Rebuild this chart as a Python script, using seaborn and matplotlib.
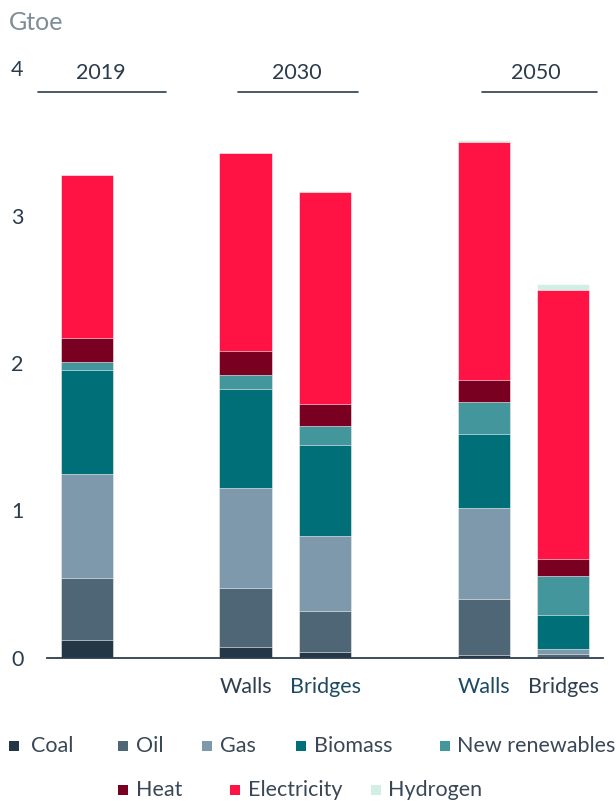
import numpy as np
import pandas as pd
import matplotlib
matplotlib.use("Agg")
import matplotlib.pyplot as plt
from matplotlib.patches import Rectangle
import seaborn as sns

# ---------------- data ----------------
bars = ["2019", "2030 Walls", "2030 Bridges", "2050 Walls", "2050 Bridges"]
positions = [0, 2, 3, 5, 6]
tick_labels = ["Walls", "Bridges", "Walls", "Bridges"]
groups = ["2019", "2030", "2050"]
sources = ["Coal", "Oil", "Gas", "Biomass", "New renewables", "Heat", "Electricity", "Hydrogen"]

coal = [0.12, 0.077, 0.043, 0.020, 0.010]
oil = [0.42, 0.400, 0.277, 0.382, 0.015]
gas = [0.71, 0.675, 0.510, 0.613, 0.034]
biomass = [0.70, 0.670, 0.617, 0.506, 0.235]
new_renewables = [0.055, 0.100, 0.127, 0.215, 0.262]
heat = [0.165, 0.160, 0.151, 0.147, 0.115]
electricity = [1.105, 1.340, 1.437, 1.613, 1.826]
hydrogen = [0.0, 0.0, 0.007, 0.016, 0.037]

colors = {
    "Coal": "#243746",
    "Oil": "#4f6677",
    "Gas": "#7d99ab",
    "Biomass": "#006f77",
    "New renewables": "#43969b",
    "Heat": "#7a0022",
    "Electricity": "#ff1244",
    "Hydrogen": "#d2efe5",
}

series = [coal, oil, gas, biomass, new_renewables, heat, electricity, hydrogen]
df = pd.DataFrame({s: v for s, v in zip(sources, series)})
cum = df[sources].cumsum(axis=1)
cum["pos"] = positions

# ---------------- style ----------------
sns.set_theme(style="white")
plt.rcParams["font.family"] = ["Lato", "DejaVu Sans"]
text_dark = "#2a3b4c"

fig = plt.figure(figsize=(6.16, 8.01), dpi=100)
ax = fig.add_axes([47 / 616, 1 - 658 / 801, (603 - 47) / 616, (658 - 68) / 801])

# layered cumulative bars (top category drawn first)
for s in reversed(sources):
    sns.barplot(data=cum, x="pos", y=s, native_scale=True, width=0.66,
                color=colors[s], saturation=1, errorbar=None,
                edgecolor="white", linewidth=0.4, ax=ax)

ax.set_xlim(-0.5, 6.5)
ax.set_ylim(0, 4)
ax.set_xlabel("")
ax.set_ylabel("")
ax.set_yticks([0, 1, 2, 3, 4])
ax.set_yticklabels(["0", "1", "2", "3", "4"], fontsize=15.5, color=text_dark)
ax.set_xticks([2, 3, 5, 6])
ax.set_xticklabels(tick_labels, fontsize=15.5)
tick_colors = ["#2f3f4f", "#1d4a62", "#1d4a62", "#2f3f4f"]
for t, c in zip(ax.get_xticklabels(), tick_colors):
    t.set_color(c)
ax.tick_params(axis="y", length=0, pad=17)
ax.tick_params(axis="x", length=0, pad=14)
for sp in ["top", "right", "left"]:
    ax.spines[sp].set_visible(False)
ax.spines["bottom"].set_color("#2d3e4e")
ax.spines["bottom"].set_linewidth(1.3)

# group headers
header_x = [0.18, 2.65, 5.66]
line_spans = [(-0.61, 1.0), (1.90, 3.41), (4.98, 6.43)]
for g, hx, (x0, x1) in zip(groups, header_x, line_spans):
    ax.text(hx, 3.965, g, ha="center", va="center", fontsize=15.5,
            color=text_dark, clip_on=False)
    ax.plot([x0, x1], [3.84, 3.84], color="#2d3e4e", lw=1.2, clip_on=False)

fig.text(9 / 616, 1 - 22 / 801, "Gtoe", ha="left", va="center",
         fontsize=18, color="#7f8d99")

# legend (manual, two rows)
row1 = [("Coal", 14, 31), ("Oil", 123, 136), ("Gas", 207, 220),
        ("Biomass", 301, 314), ("New renewables", 445, 457)]
row2 = [("Heat", 123, 136), ("Electricity", 235, 248), ("Hydrogen", 376, 388)]
sq = 10
for row, ypix in [(row1, 746), (row2, 790)]:
    for name, xc, xt in row:
        fig.add_artist(Rectangle(((xc - sq / 2) / 616, 1 - (ypix + sq / 2) / 801),
                                 sq / 616, sq / 801, transform=fig.transFigure,
                                 facecolor=colors[name], edgecolor="none"))
        fig.text(xt / 616, 1 - ypix / 801, name, ha="left", va="center",
                 fontsize=15.5, color="#3a4756")

fig.savefig("out.png", dpi=100)
